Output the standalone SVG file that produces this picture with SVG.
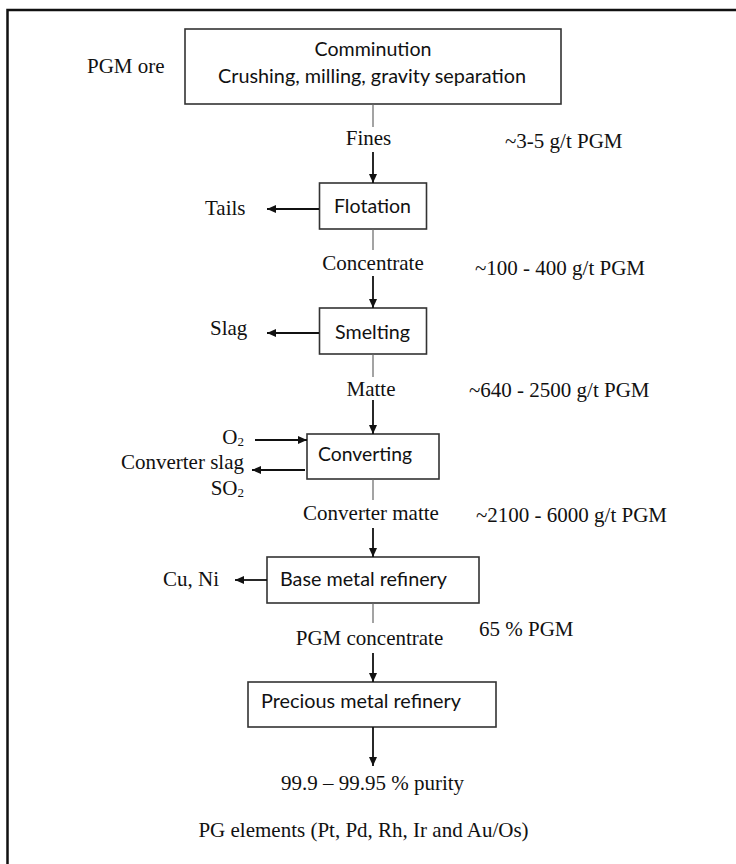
<svg xmlns="http://www.w3.org/2000/svg" width="736" height="864" viewBox="0 0 736 864">
<style>
.box{fill:#fff;stroke:#333;stroke-width:1.6}
.sans{font-family:Lato,"Open Sans","Liberation Sans",sans-serif;font-size:19px;fill:#111}
.serif{font-family:"Liberation Serif","Times New Roman",serif;font-size:21px;fill:#111}
.thin{stroke:#666;stroke-width:1.2;fill:none}
.arr{stroke:#111;stroke-width:1.8;fill:none;marker-end:url(#ah)}
.sub{font-size:13px}
</style>
<defs>
<marker id="ah" markerUnits="userSpaceOnUse" markerWidth="10" markerHeight="10" refX="9" refY="5" orient="auto">
<path d="M0,1 L9,5 L0,9 Z" fill="#111"/>
</marker>
</defs>
<rect width="736" height="864" fill="#fff"/>
<g id="frame" stroke="#111" stroke-width="2.5" fill="none">
<path d="M7.5,864 V10 H736"/>
</g>

<g id="comminution">
<rect class="box" x="185" y="29" width="376" height="75"/>
<text class="sans" x="373" y="56" text-anchor="middle" textLength="117" lengthAdjust="spacingAndGlyphs">Comminution</text>
<text class="sans" x="372" y="83" text-anchor="middle" textLength="308" lengthAdjust="spacingAndGlyphs">Crushing, milling, gravity separation</text>
</g>
<g id="flotation">
<rect class="box" x="319.5" y="183" width="107" height="46"/>
<text class="sans" x="334" y="213" textLength="77" lengthAdjust="spacingAndGlyphs">Flotation</text>
</g>
<g id="smelting">
<rect class="box" x="319.5" y="308" width="107" height="46"/>
<text class="sans" x="335" y="339" textLength="75" lengthAdjust="spacingAndGlyphs">Smelting</text>
</g>
<g id="converting">
<rect class="box" x="307" y="434" width="132" height="45"/>
<text class="sans" x="318" y="461" textLength="94" lengthAdjust="spacingAndGlyphs">Converting</text>
</g>
<g id="bmr">
<rect class="box" x="267" y="557" width="212" height="46"/>
<text class="sans" x="280" y="586" textLength="167" lengthAdjust="spacingAndGlyphs">Base metal refinery</text>
</g>
<g id="pmr">
<rect class="box" x="248" y="682" width="248" height="45"/>
<text class="sans" x="261" y="708" textLength="200" lengthAdjust="spacingAndGlyphs">Precious metal refinery</text>
</g>

<g id="connectors">
<line class="thin" x1="373" y1="104" x2="373" y2="127"/>
<line class="arr" x1="373" y1="152" x2="373" y2="183"/>
<line class="thin" x1="373" y1="229" x2="373" y2="250"/>
<line class="arr" x1="373" y1="276" x2="373" y2="308"/>
<line class="thin" x1="373" y1="354" x2="373" y2="377"/>
<line class="arr" x1="373" y1="400" x2="373" y2="434"/>
<line class="thin" x1="373" y1="479" x2="373" y2="500"/>
<line class="arr" x1="373" y1="528" x2="373" y2="557"/>
<line class="thin" x1="373" y1="603" x2="373" y2="623"/>
<line class="arr" x1="373" y1="653" x2="373" y2="682"/>
<line class="arr" x1="373" y1="727" x2="373" y2="766"/>
<line class="arr" x1="319" y1="209" x2="267" y2="209"/>
<line class="arr" x1="319" y1="333" x2="267" y2="333"/>
<line class="arr" x1="255" y1="440" x2="307" y2="440"/>
<line class="arr" x1="305" y1="470" x2="252" y2="470"/>
<line class="arr" x1="267" y1="580" x2="235" y2="580"/>
</g>

<g id="labels">
<text class="serif" x="87" y="73">PGM ore</text>
<text class="serif" x="368.5" y="145" text-anchor="middle">Fines</text>
<text class="serif" x="505" y="148">~3-5 g/t PGM</text>
<text class="serif" x="205" y="215">Tails</text>
<text class="serif" x="373" y="270" text-anchor="middle">Concentrate</text>
<text class="serif" x="475" y="275">~100 - 400 g/t PGM</text>
<text class="serif" x="210" y="335">Slag</text>
<text class="serif" x="371" y="396" text-anchor="middle">Matte</text>
<text class="serif" x="469" y="397">~640 - 2500 g/t PGM</text>
<text class="serif" x="244" y="444" text-anchor="end">O<tspan class="sub" dy="2">2</tspan></text>
<text class="serif" x="244" y="469" text-anchor="end">Converter slag</text>
<text class="serif" x="244" y="495" text-anchor="end">SO<tspan class="sub" dy="2">2</tspan></text>
<text class="serif" x="371" y="520" text-anchor="middle">Converter matte</text>
<text class="serif" x="476" y="522">~2100 - 6000 g/t PGM</text>
<text class="serif" x="163" y="586">Cu, Ni</text>
<text class="serif" x="369.5" y="645" text-anchor="middle">PGM concentrate</text>
<text class="serif" x="479" y="636">65 % PGM</text>
<text class="serif" x="372.5" y="790" text-anchor="middle">99.9 – 99.95 % purity</text>
<text class="serif" x="363.5" y="837" text-anchor="middle">PG elements (Pt, Pd, Rh, Ir and Au/Os)</text>
</g>
</svg>
